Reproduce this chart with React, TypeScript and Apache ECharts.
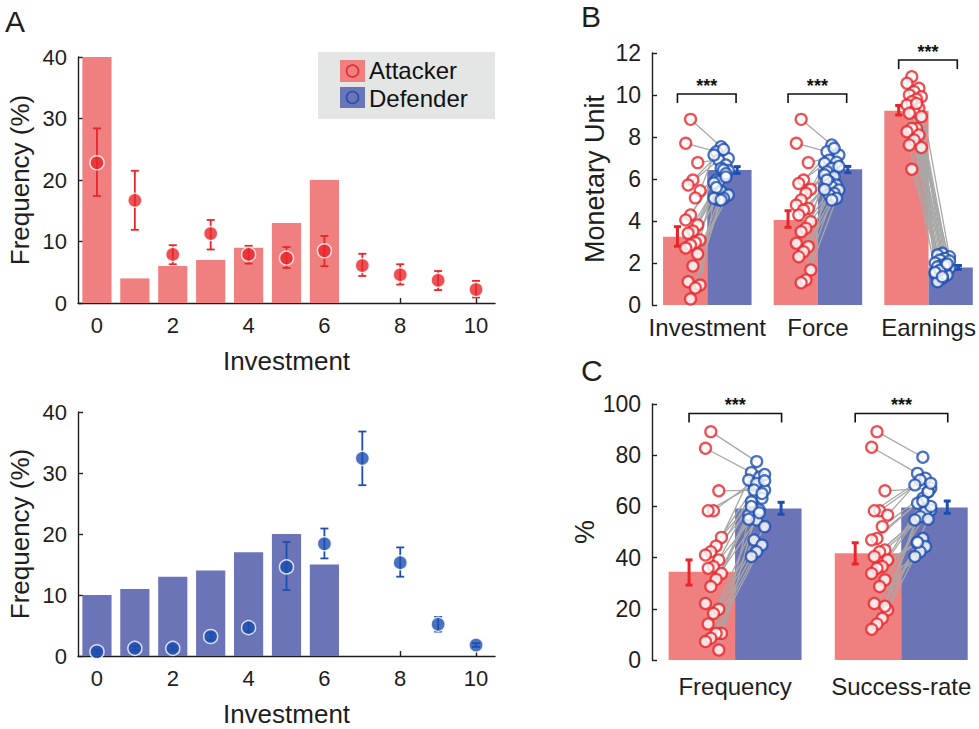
import React, { useEffect, useRef } from "react";
import * as echarts from "echarts";

// ---------- Panel A data ----------
const aTickValues = [0, 2, 4, 6, 8, 10];
const investmentLevels = [0, 1, 2, 3, 4, 5, 6, 7, 8, 9, 10];
const barLevels = [0, 1, 2, 3, 4, 5, 6];
const attackerBarFreq = [40, 4, 6, 7, 9, 13, 20];
const defenderBarFreq = [10, 11, 13, 14, 17, 20, 15];
const attackerDotMean = [22.8, 16.7, 7.9, 11.3, 7.9, 7.3, 8.5, 6.1, 4.6, 3.7, 2.2];
const attackerDotLo = [17.4, 11.9, 6.3, 8.7, 6.4, 5.7, 6.0, 4.4, 3.0, 2.1, 0.9];
const attackerDotHi = [28.4, 21.5, 9.4, 13.5, 9.3, 9.1, 10.9, 8.0, 6.3, 5.2, 3.6];
const defenderDotMean = [0.7, 1.25, 1.25, 3.2, 4.65, 14.6, 18.4, 32.4, 15.3, 5.2, 1.8];
const defenderDotLo = [0.4, 0.9, 0.9, 2.6, 4.0, 10.8, 16.0, 28.0, 13.0, 4.0, 1.5];
const defenderDotHi = [1.0, 1.6, 1.6, 3.8, 5.6, 18.7, 20.9, 36.8, 17.8, 6.4, 2.1];

// ---------- Panel B data ----------
const bCategories = ["Investment", "Force", "Earnings"];
const bAttackerMean = [3.25, 4.05, 9.25];
const bAttackerLo = [2.8, 3.7, 9.05];
const bAttackerHi = [3.73, 4.49, 9.5];
const bDefenderMean = [6.43, 6.46, 1.79];
const bDefenderLo = [6.27, 6.3, 1.7];
const bDefenderHi = [6.59, 6.6, 1.88];
const bBracketY = [10.05, 10.05, 11.67];
const bInvestmentAttacker = [8.84, 7.7, 6.78, 5.95, 5.71, 5.44, 5.1, 4.29, 4.05, 3.81, 3.52, 3.42, 3.1, 2.97, 2.86, 2.71, 2.43, 1.86, 1.11, 0.95, 0.81, 0.29];
const bInvestmentDefender = [7.54, 7.3, 6.98, 7.41, 6.9, 7.14, 6.67, 6.51, 5.95, 6.4, 6.43, 5.87, 5.81, 6.25, 5.4, 5.6, 5.24, 5.08, 5.0, 5.08, 6.1, 5.0];
const bForceAttacker = [8.84, 7.7, 6.78, 5.95, 5.79, 5.51, 5.32, 5.0, 4.76, 4.6, 4.52, 4.29, 3.97, 3.65, 3.49, 2.94, 2.78, 2.54, 2.3, 1.67, 1.19, 1.06];
const bForceDefender = [7.62, 7.3, 7.14, 7.46, 6.9, 6.75, 6.8, 6.51, 6.35, 6.6, 6.11, 5.87, 6.2, 5.71, 5.63, 5.95, 5.48, 5.32, 5.24, 5.5, 5.08, 5.0];
const bEarningsAttacker = [10.87, 10.56, 10.32, 10.16, 10.0, 9.92, 9.8, 9.68, 9.52, 9.37, 9.21, 9.13, 8.97, 8.41, 8.41, 8.25, 8.1, 7.86, 7.62, 7.5, 9.6, 6.46];
const bEarningsDefender = [2.46, 2.38, 2.3, 2.22, 2.14, 2.0, 1.98, 1.9, 1.82, 1.75, 1.7, 1.59, 1.5, 1.43, 1.27, 1.11, 2.1, 1.85, 1.65, 1.55, 1.95, 1.35];

// ---------- Panel C data ----------
const cCategories = ["Frequency", "Success-rate"];
const cAttackerMean = [34.5, 41.7];
const cAttackerLo = [29.3, 37.5];
const cAttackerHi = [39.1, 45.8];
const cDefenderMean = [59.2, 59.6];
const cDefenderLo = [56.9, 57.3];
const cDefenderHi = [61.6, 62.1];
const cBracketY = [96.3, 96.3];
const cFrequencyAttacker = [89.2, 82.7, 66.1, 58.3, 58.3, 47.9, 44.5, 42.3, 41.0, 39.1, 36.5, 35.8, 33.8, 31.5, 28.7, 22.1, 19.8, 18.2, 14.1, 10.4, 10.4, 8.5, 7.2, 3.9];
const cFrequencyDefender = [77.5, 73.2, 66.4, 71.4, 68.4, 70.3, 63.2, 69.0, 61.8, 72.5, 58.6, 66.4, 56.6, 65.0, 54.7, 60.0, 52.1, 57.5, 46.9, 55.0, 44.9, 42.3, 40.4, 70.0];
const cSuccessAttacker = [89.2, 83.1, 66.1, 58.3, 58.3, 56.6, 52.1, 47.5, 46.9, 43.0, 42.3, 40.4, 39.1, 36.5, 35.8, 33.8, 31.3, 28.7, 22.1, 19.5, 16.3, 14.1, 12.0, 21.0];
const cSuccessDefender = [79.2, 72.9, 67.1, 71.0, 70.3, 68.4, 65.7, 63.2, 61.2, 58.6, 57.9, 56.0, 54.7, 65.7, 47.5, 45.6, 60.0, 44.3, 42.3, 40.4, 55.0, 62.0, 46.0, 69.0];

// ---------- styles ----------
const FONT = "'Liberation Sans', Arial, Helvetica, sans-serif";
const TXT = "#1e1e1e";
const ATT_BAR = "#f07f80";
const DEF_BAR = "#6b74b7";
const ATT_DOT = "#e8262a";
const DEF_DOT = "#1d4eb0";
const LINE_GRAY = "#a8a8a8";

const jit = (i: number) => (((i * 5 + 2) % 7) - 3) / 3;

function barSeries(grid: number, xs: number[], vals: number[], off0: number, off1: number, color: string) {
  return {
    type: "custom",
    xAxisIndex: grid,
    yAxisIndex: grid,
    z: 1,
    data: xs.map((x, i) => [x, vals[i]]),
    encode: { x: [0], y: [1] },
    renderItem: (_p: any, api: any) => {
      const x = api.value(0);
      const v = api.value(1);
      const p0 = api.coord([x + off0, 0]);
      const p1 = api.coord([x + off1, v]);
      return {
        type: "rect",
        shape: { x: p0[0], y: p1[1], width: p1[0] - p0[0], height: p0[1] - p1[1] },
        style: { fill: color },
      };
    },
  };
}

function errSeries(grid: number, xs: number[], lo: number[], hi: number[], off: number, color: string, cap: number, lw: number) {
  return {
    type: "custom",
    xAxisIndex: grid,
    yAxisIndex: grid,
    z: 3,
    data: xs.map((x, i) => [x, lo[i], hi[i]]),
    encode: { x: [0], y: [1, 2] },
    renderItem: (_p: any, api: any) => {
      const x = api.value(0) + off;
      const a = api.coord([x, api.value(1)]);
      const b = api.coord([x, api.value(2)]);
      const st = { stroke: color, lineWidth: lw };
      return {
        type: "group",
        children: [
          { type: "line", shape: { x1: a[0], y1: a[1], x2: b[0], y2: b[1] }, style: st },
          { type: "line", shape: { x1: a[0] - cap, y1: a[1], x2: a[0] + cap, y2: a[1] }, style: st },
          { type: "line", shape: { x1: b[0] - cap, y1: b[1], x2: b[0] + cap, y2: b[1] }, style: st },
        ],
      };
    },
  };
}

function bracketSeries(grid: number, ys: number[], off0: number, off1: number) {
  return {
    type: "custom",
    xAxisIndex: grid,
    yAxisIndex: grid,
    z: 5,
    clip: false,
    data: ys.map((y, i) => [i, y]),
    encode: { x: [0], y: [1] },
    renderItem: (_p: any, api: any) => {
      const c = api.value(0);
      const y = api.value(1);
      const a = api.coord([c + off0, y]);
      const b = api.coord([c + off1, y]);
      return {
        type: "group",
        children: [
          {
            type: "polyline",
            shape: { points: [[a[0], a[1] + 9], [a[0], a[1]], [b[0], b[1]], [b[0], b[1] + 9]] },
            style: { stroke: "#111", lineWidth: 1.6, fill: null },
          },
          {
            type: "text",
            x: (a[0] + b[0]) / 2,
            y: a[1] - 8,
            style: { text: "***", fontSize: 18, fontWeight: "bold", fill: "#111", align: "center", verticalAlign: "middle", fontFamily: FONT },
          },
        ],
      };
    },
  };
}

function pairSeries(grid: number, groups: number[][][], attOff: number, defOff: number, spread: number) {
  const lines: number[][] = [];
  const att: number[][] = [];
  const def: number[][] = [];
  groups.forEach(([a, d], c) => {
    a.forEach((v, i) => {
      const xa = c + attOff + jit(i) * spread;
      const xd = c + defOff + jit(i + 3) * spread;
      lines.push([xa, v, xd, d[i]]);
      att.push([xa, v]);
      def.push([xd, d[i]]);
    });
  });
  return [
    {
      type: "custom",
      xAxisIndex: grid,
      yAxisIndex: grid,
      z: 2,
      data: lines,
      encode: { x: [0, 2], y: [1, 3] },
      renderItem: (_p: any, api: any) => {
        const a = api.coord([api.value(0), api.value(1)]);
        const b = api.coord([api.value(2), api.value(3)]);
        return { type: "line", shape: { x1: a[0], y1: a[1], x2: b[0], y2: b[1] }, style: { stroke: LINE_GRAY, lineWidth: 1.3 } };
      },
    },
    {
      type: "scatter",
      xAxisIndex: grid,
      yAxisIndex: grid,
      z: 4,
      symbolSize: 11,
      data: att,
      itemStyle: { color: "#ffffff", borderColor: ATT_DOT, borderWidth: 2.3 },
    },
    {
      type: "scatter",
      xAxisIndex: grid,
      yAxisIndex: grid,
      z: 4,
      symbolSize: 11,
      data: def,
      itemStyle: { color: "#ffffff", borderColor: DEF_DOT, borderWidth: 2.3 },
    },
  ];
}

const axisLineStyle = { show: true, onZero: false, lineStyle: { color: TXT, width: 1.4 } };

function aXAxis(grid: number) {
  return {
    gridIndex: grid,
    type: "value",
    min: -0.5,
    max: 10.5,
    axisLine: axisLineStyle,
    axisTick: { show: true, inside: true, length: 5, customValues: aTickValues, lineStyle: { color: TXT, width: 1.4 } },
    axisLabel: { customValues: aTickValues, fontSize: 22, margin: 11, color: TXT, fontFamily: FONT },
    splitLine: { show: false },
    name: "Investment",
    nameLocation: "middle",
    nameGap: 45,
    nameTextStyle: { fontSize: 26, color: TXT, fontFamily: FONT },
  };
}

function yAxisCfg(grid: number, max: number, interval: number, name: string, fs: number, nameFs: number, gap: number) {
  return {
    gridIndex: grid,
    type: "value",
    min: 0,
    max,
    interval,
    axisLine: axisLineStyle,
    axisTick: { show: true, inside: true, length: 5, lineStyle: { color: TXT, width: 1.4 } },
    axisLabel: { fontSize: fs, margin: 11, color: TXT, fontFamily: FONT },
    splitLine: { show: false },
    name,
    nameLocation: "middle",
    nameGap: gap,
    nameTextStyle: { fontSize: nameFs, color: TXT, fontFamily: FONT },
  };
}

function catXAxis(grid: number, max: number, cats: string[], margin: number) {
  const vals = cats.map((_c, i) => i);
  return {
    gridIndex: grid,
    type: "value",
    min: -0.5,
    max,
    axisLine: { show: false, onZero: false },
    axisTick: { show: false },
    axisLabel: {
      customValues: vals,
      formatter: (v: number) => cats[Math.round(v)],
      fontSize: 24,
      margin,
      color: TXT,
      fontFamily: FONT,
    },
    splitLine: { show: false },
  };
}

export default function App() {
  const ref = useRef<HTMLDivElement>(null);
  useEffect(() => {
    document.body.style.margin = "0";
    if (!ref.current) return;
    const chart = echarts.init(ref.current, null, { renderer: "svg" });
    const bGroups = [
      [bInvestmentAttacker, bInvestmentDefender],
      [bForceAttacker, bForceDefender],
      [bEarningsAttacker, bEarningsDefender],
    ];
    const cGroups = [
      [cFrequencyAttacker, cFrequencyDefender],
      [cSuccessAttacker, cSuccessDefender],
    ];
    const bIdx = bCategories.map((_c, i) => i);
    const cIdx = cCategories.map((_c, i) => i);
    const option: any = {
      animation: false,
      textStyle: { fontFamily: FONT },
      grid: [
        { left: 78, top: 57, width: 417, height: 246, outerBoundsMode: "none" },
        { left: 78, top: 412, width: 417, height: 244, outerBoundsMode: "none" },
        { left: 652, top: 53, width: 323, height: 252, outerBoundsMode: "none" },
        { left: 652, top: 404, width: 324, height: 256, outerBoundsMode: "none" },
      ],
      xAxis: [aXAxis(0), aXAxis(1), catXAxis(2, 2.42, bCategories, 10), catXAxis(3, 1.45, cCategories, 14)],
      yAxis: [
        yAxisCfg(0, 40, 10, "Frequency (%)", 22, 26, 45),
        yAxisCfg(1, 40, 10, "Frequency (%)", 22, 26, 45),
        yAxisCfg(2, 12, 2, "Monetary Unit", 23, 27, 44),
        yAxisCfg(3, 100, 20, "%", 23, 27, 48),
      ],
      series: [
        // Panel A top
        barSeries(0, barLevels, attackerBarFreq, -0.385, 0.385, ATT_BAR),
        errSeries(0, investmentLevels, attackerDotLo, attackerDotHi, 0, ATT_DOT, 4, 1.8),
        {
          type: "scatter",
          xAxisIndex: 0,
          yAxisIndex: 0,
          z: 4,
          symbolSize: 14,
          data: investmentLevels.map((x, i) => [x, attackerDotMean[i]]),
          itemStyle: { color: ATT_DOT, borderColor: "#ffffff", borderWidth: 1.5 },
        },
        // Panel A bottom
        barSeries(1, barLevels, defenderBarFreq, -0.385, 0.385, DEF_BAR),
        errSeries(1, investmentLevels, defenderDotLo, defenderDotHi, 0, DEF_DOT, 4, 1.8),
        {
          type: "scatter",
          xAxisIndex: 1,
          yAxisIndex: 1,
          z: 4,
          symbolSize: 14,
          data: investmentLevels.map((x, i) => [x, defenderDotMean[i]]),
          itemStyle: { color: DEF_DOT, borderColor: "#ffffff", borderWidth: 1.5 },
        },
        // Panel B
        barSeries(2, bIdx, bAttackerMean, -0.4, 0, ATT_BAR),
        barSeries(2, bIdx, bDefenderMean, 0, 0.4, DEF_BAR),
        errSeries(2, bIdx, bAttackerLo, bAttackerHi, -0.27, ATT_DOT, 3.5, 3),
        errSeries(2, bIdx, bDefenderLo, bDefenderHi, 0.27, DEF_DOT, 3.5, 3),
        ...pairSeries(2, bGroups, -0.13, 0.125, 0.065),
        bracketSeries(2, bBracketY, -0.27, 0.26),
        // Panel C
        barSeries(3, cIdx, cAttackerMean, -0.4, 0, ATT_BAR),
        barSeries(3, cIdx, cDefenderMean, 0, 0.4, DEF_BAR),
        errSeries(3, cIdx, cAttackerLo, cAttackerHi, -0.277, ATT_DOT, 3.5, 3),
        errSeries(3, cIdx, cDefenderLo, cDefenderHi, 0.277, DEF_DOT, 3.5, 3),
        ...pairSeries(3, cGroups, -0.13, 0.13, 0.048),
        bracketSeries(3, cBracketY, -0.277, 0.28),
      ],
      graphic: [
        { type: "text", left: 5, top: 6, style: { text: "A", fontSize: 30, fill: TXT, fontFamily: FONT } },
        { type: "text", left: 581, top: 1, style: { text: "B", fontSize: 30, fill: TXT, fontFamily: FONT } },
        { type: "text", left: 581, top: 355, style: { text: "C", fontSize: 30, fill: TXT, fontFamily: FONT } },
        {
          type: "group",
          left: 318,
          top: 52,
          children: [
            { type: "rect", shape: { x: 0, y: 0, width: 177, height: 67 }, style: { fill: "#e4e6e6" } },
            { type: "rect", shape: { x: 22, y: 8, width: 25, height: 22 }, style: { fill: ATT_BAR } },
            { type: "circle", shape: { cx: 34.5, cy: 19, r: 6 }, style: { fill: "none", stroke: ATT_DOT, lineWidth: 1.5 } },
            { type: "rect", shape: { x: 22, y: 35, width: 25, height: 21 }, style: { fill: DEF_BAR } },
            { type: "circle", shape: { cx: 34.5, cy: 45.5, r: 6 }, style: { fill: "none", stroke: DEF_DOT, lineWidth: 1.5 } },
            { type: "text", x: 51, y: 18.5, style: { text: "Attacker", fontSize: 24, lineHeight: 24, fill: "#111", verticalAlign: "middle", fontFamily: FONT } },
            { type: "text", x: 51, y: 46.5, style: { text: "Defender", fontSize: 24, lineHeight: 24, fill: "#111", verticalAlign: "middle", fontFamily: FONT } },
          ],
        },
      ],
    };
    chart.setOption(option);
    return () => chart.dispose();
  }, []);
  return <div ref={ref} style={{ width: 979, height: 729 }} />;
}
